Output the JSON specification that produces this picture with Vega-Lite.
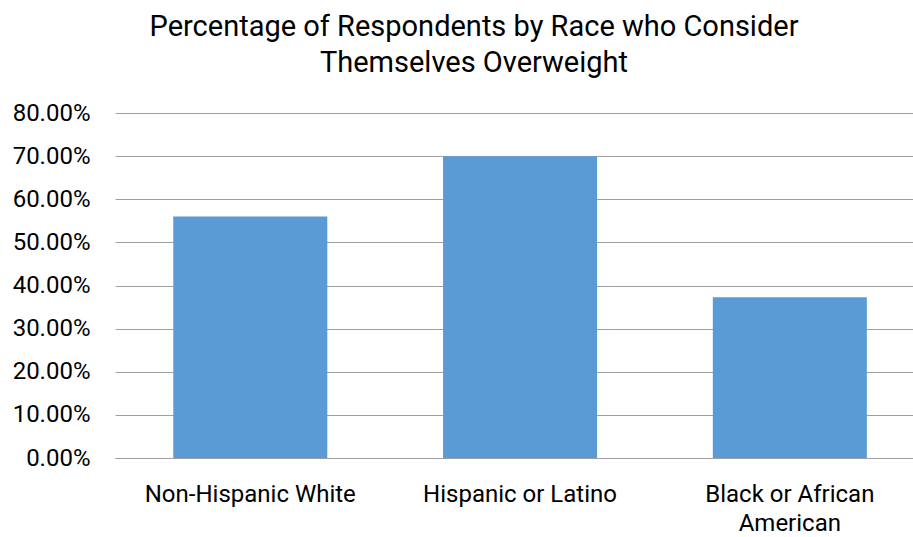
{
  "$schema": "https://vega.github.io/schema/vega-lite/v6.json",
  "autosize": {"type": "none"},
  "padding": {"left": 115, "top": 113, "right": 0, "bottom": 79},
  "width": 798,
  "height": 345,
  "background": "white",
  "title": {
    "text": ["Percentage of Respondents by Race who Consider", "Themselves Overweight"],
    "anchor": "middle",
    "frame": "group",
    "dx": -40,
    "font": "Roboto",
    "fontSize": 29,
    "fontWeight": "normal",
    "color": "#000000",
    "lineHeight": 36,
    "offset": 23
  },
  "data": {
    "values": [
      {"race": "Non-Hispanic White", "pct": 0.56},
      {"race": "Hispanic or Latino", "pct": 0.70},
      {"race": "Black or African|American", "pct": 0.373}
    ]
  },
  "mark": {"type": "bar", "color": "#5B9BD5"},
  "encoding": {
    "x": {
      "field": "race",
      "type": "nominal",
      "sort": null,
      "scale": {"paddingInner": 0.429, "paddingOuter": 0.1935, "align": 0.558},
      "axis": {
        "title": null,
        "labelAngle": 0,
        "ticks": false,
        "domain": true,
        "domainColor": "#A0A0A0",
        "domainWidth": 1,
        "labelPadding": 24,
        "labelFont": "Roboto",
        "labelFontSize": 24,
        "labelColor": "#000000",
        "labelLineHeight": 29,
        "labelLimit": 0,
        "labelExpr": "split(datum.label, '|')"
      }
    },
    "y": {
      "field": "pct",
      "type": "quantitative",
      "scale": {"domain": [0, 0.8], "nice": false},
      "axis": {
        "title": null,
        "format": ".2%",
        "values": [0, 0.1, 0.2, 0.3, 0.4, 0.5, 0.6, 0.7, 0.8],
        "ticks": false,
        "domain": false,
        "grid": true,
        "gridColor": "#A0A0A0",
        "gridWidth": 1,
        "labelPadding": 25,
        "labelFont": "Roboto",
        "labelFontSize": 24,
        "labelColor": "#000000",
        "labelLimit": 0
      }
    }
  },
  "config": {"view": {"stroke": null}}
}
